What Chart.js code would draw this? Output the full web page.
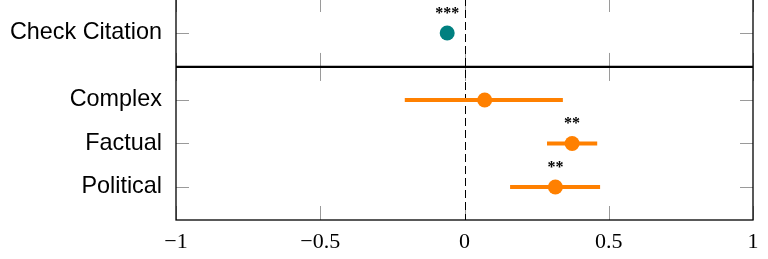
<!DOCTYPE html>
<html>
<head>
<meta charset="utf-8">
<script src="https://cdn.jsdelivr.net/npm/chart.js@4.4.0/dist/chart.umd.min.js"></script>
<style>
  html, body { margin: 0; padding: 0; background: #fff; overflow: hidden; }
  #wrap { position: absolute; left: 0; top: -6px; width: 768px; height: 265px; }
</style>
</head>
<body>
<div id="wrap"><canvas id="forest" width="768" height="265"></canvas></div>
<script>
// rows, top to bottom
var labels = ['Check Citation', 'Complex', 'Factual', 'Political']
var estimates = [-0.06, 0.07, 0.373, 0.315]
var ciLow = [null, -0.207, 0.286, 0.158]
var ciHigh = [null, 0.341, 0.46, 0.47]
var stars = ['***', '', '**', '**']
var xTicks = [-1, -0.5, 0, 0.5, 1]

// layout of the rows on the value axis (upper panel / lower panel)
var rowY = [3.54, 2, 1, 0]
var separatorY = 2.76
var teal = 'rgb(0,128,128)'
var orange = 'rgb(255,128,0)'
var rowColor = [teal, orange, orange, orange]

var datasets = []
datasets.push({
    type: 'scatter',
    data: estimates.map(function (v, i) { return {x: v, y: rowY[i]} }),
    backgroundColor: rowColor,
    borderColor: rowColor,
    pointRadius: 7.5,
    pointHoverRadius: 7.5,
    borderWidth: 0,
    order: 0
})
for (let i = 0; i < labels.length; i++) {
    if (ciLow[i] === null) continue
    datasets.push({
        type: 'line',
        data: [{x: ciLow[i], y: rowY[i]}, {x: ciHigh[i], y: rowY[i]}],
        borderColor: rowColor[i],
        borderWidth: 4,
        pointRadius: 0,
        fill: false,
        order: 1
    })
}

var frame = {
    id: 'frame',
    beforeDatasetsDraw: function (chart) {
        var ctx = chart.ctx
        var a = chart.chartArea
        var xs = chart.scales.x
        var ys = chart.scales.y
        var sep = ys.getPixelForValue(separatorY)
        ctx.save()
        // inward ticks
        ctx.strokeStyle = '#9a9a9a'
        ctx.lineWidth = 1
        ctx.beginPath()
        xTicks.forEach(function (t) {
            var px = Math.round(xs.getPixelForValue(t)) + 0.5
            ctx.moveTo(px, a.top); ctx.lineTo(px, a.top + 14)
            ctx.moveTo(px, sep - 14); ctx.lineTo(px, sep + 14)
            ctx.moveTo(px, a.bottom - 14); ctx.lineTo(px, a.bottom)
        })
        rowY.forEach(function (r) {
            var py = Math.round(ys.getPixelForValue(r)) + 0.5
            ctx.moveTo(a.left, py); ctx.lineTo(a.left + 13, py)
            ctx.moveTo(a.right - 13, py); ctx.lineTo(a.right, py)
        })
        ctx.stroke()
        // zero line
        ctx.strokeStyle = '#000'
        ctx.setLineDash([8, 4])
        ctx.beginPath()
        var zx = Math.round(xs.getPixelForValue(0)) + 0.5
        ctx.moveTo(zx, a.top); ctx.lineTo(zx, a.bottom)
        ctx.stroke()
        ctx.setLineDash([])
        // panel borders
        ctx.lineWidth = 1.3
        ctx.strokeRect(a.left, a.top, a.right - a.left, a.bottom - a.top)
        ctx.lineWidth = 2.2
        ctx.beginPath()
        ctx.moveTo(a.left, sep); ctx.lineTo(a.right, sep)
        ctx.stroke()
        ctx.restore()
    },
    afterDatasetsDraw: function (chart) {
        var ctx = chart.ctx
        var xs = chart.scales.x
        var ys = chart.scales.y
        ctx.save()
        ctx.fillStyle = '#000'
        ctx.font = 'bold 16px "Liberation Serif"'
        ctx.textAlign = 'center'
        ctx.textBaseline = 'alphabetic'
        for (let i = 0; i < labels.length; i++) {
            if (!stars[i]) continue
            ctx.fillText(stars[i], xs.getPixelForValue(estimates[i]), ys.getPixelForValue(rowY[i]) - 15)
        }
        ctx.restore()
    }
}

var ctx = document.getElementById('forest').getContext('2d')
var forest = new Chart(ctx, {
    type: 'scatter',
    data: { datasets: datasets },
    plugins: [frame],
    options: {
        responsive: false,
        animation: false,
        layout: { autoPadding: false, padding: { top: 4, right: 15, left: 0, bottom: 0 } },
        plugins: {
            legend: { display: false },
            tooltip: { enabled: false }
        },
        scales: {
            x: {
                type: 'linear',
                min: -1,
                max: 1,
                grid: { display: false, drawTicks: false },
                border: { display: false },
                afterBuildTicks: function (scale) {
                    scale.ticks = xTicks.map(function (v) { return {value: v} })
                },
                ticks: {
                    padding: 9,
                    color: '#000',
                    maxRotation: 0,
                    font: { family: '"Liberation Serif", serif', size: 22 },
                    callback: function (v) { return v < 0 ? '\u2212' + Math.abs(v) : String(v) }
                },
                afterFit: function (scale) {
                    scale.height = 39
                    scale.paddingLeft = 0
                    scale.paddingRight = 0
                }
            },
            y: {
                type: 'linear',
                min: -0.759,
                max: 4.345,
                grid: { display: false, drawTicks: false },
                border: { display: false },
                afterBuildTicks: function (scale) {
                    scale.ticks = rowY.map(function (v) { return {value: v} })
                },
                ticks: {
                    padding: 14,
                    color: '#000',
                    font: { family: '"Liberation Sans", Arial, sans-serif', size: 23.4 },
                    callback: function (v) {
                        var i = rowY.indexOf(v)
                        return i >= 0 ? labels[i] : ''
                    }
                },
                afterFit: function (scale) {
                    scale.width = 176
                    scale.paddingTop = 0
                    scale.paddingBottom = 0
                }
            }
        }
    }
});
</script>
</body>
</html>
